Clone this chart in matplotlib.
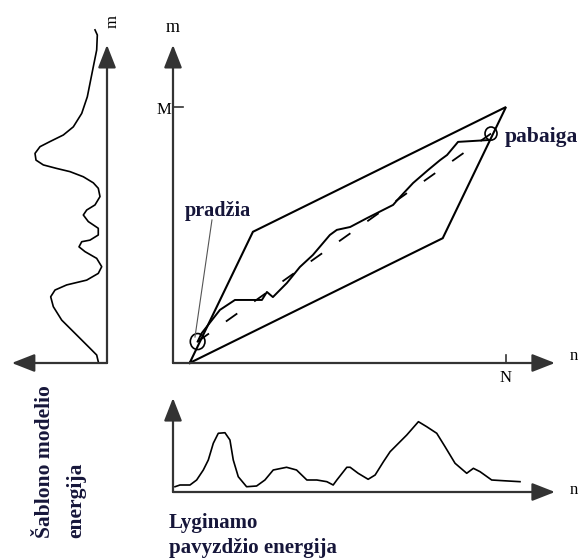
import numpy as np
import matplotlib.pyplot as plt
from matplotlib.patches import Ellipse

# frames of the test (n) and template (m) utterances
N = 100
M = 80

# allowed warping region (parallelogram)
region_n = [5, 24, 100, 81, 5]
region_m = [0, 41, 80, 39, 0]

# optimal warping path
path_n = [7.4, 8.6, 14.1, 18.6, 26.7, 28.2, 30.0, 34.2, 38.1, 42.0, 47.1, 49.2, 53.2,
          58.3, 66.1, 68.2, 72.1, 76.6, 80.2, 82.3, 85.6, 95.2]
path_m = [6.7, 9.3, 16.6, 19.7, 19.7, 22.2, 20.6, 25.0, 30.0, 33.75, 40.0, 41.6, 42.5,
          45.3, 49.4, 51.9, 56.25, 60.3, 63.4, 65.0, 69.1, 69.7]

start_pt = (7.4, 6.7)
end_pt = (95.5, 71.7)

# template energy (left panel), energy vs m
tmpl_e = [0.15, 0.121, 0.129, 0.171, 0.2125, 0.246, 0.316, 0.421, 0.546, 0.7125, 0.8375,
          0.9, 0.8875, 0.796, 0.629, 0.4625, 0.296, 0.171, 0.109, 0.0875, 0.15, 0.254,
          0.296, 0.234, 0.109, 0.109, 0.2125, 0.316, 0.35, 0.275, 0.129, 0.066, 0.109,
          0.254, 0.504, 0.65, 0.704, 0.671, 0.566, 0.379, 0.2125, 0.129, 0.109]
tmpl_m = [104.1, 102.5, 97.8, 92.6, 87.4, 83.2, 78.0, 73.8, 71.25, 69.2, 67.6,
          65.5, 63.4, 61.9, 60.8, 59.8, 58.2, 56.3, 54.6, 52.0, 49.4, 47.8,
          46.25, 44.2, 42.1, 40.0, 38.4, 37.9, 36.3, 34.8, 32.7, 30.1, 28.0,
          25.9, 24.4, 22.8, 20.7, 17.6, 13.4, 8.75, 4.6, 2.5, 0.4]

# test utterance energy (bottom panel), energy vs n
test_n = [0.6, 2.1, 5.1, 7.1, 9.1, 10.6, 12.1, 13.6, 15.6, 17.1, 18.1, 19.6, 22.1, 25.1,
          27.6, 30.1, 34.1, 37.1, 40.2, 43.2, 46.2, 48.1, 49.2, 52.2, 53.2, 55.6, 58.6,
          60.7, 63.2, 65.2, 67.2, 70.2, 73.7, 76.2, 79.2, 81.7, 84.7, 88.2, 90.2, 92.2,
          95.7, 99.2, 104.2]
test_e = [0.066, 0.0875, 0.0875, 0.15, 0.275, 0.4, 0.609, 0.734, 0.741, 0.65, 0.4, 0.191,
          0.066, 0.075, 0.15, 0.275, 0.309, 0.275, 0.15, 0.15, 0.129, 0.0875, 0.15, 0.309,
          0.309, 0.234, 0.159, 0.2125, 0.379, 0.504, 0.5875, 0.7125, 0.879, 0.816, 0.734,
          0.566, 0.359, 0.234, 0.296, 0.254, 0.15, 0.141, 0.129]

W, H = 582, 558
axis_col = '#333333'
txt_col = '#16163a'
plt.rcParams['font.family'] = ['Liberation Serif', 'DejaVu Serif']

fig = plt.figure(figsize=(W / 100, H / 100), dpi=100)


def overlay(x0, kx, y0, ky):
    # full-figure axes: data x = (px - x0) / kx, data y = (y0 - py) / ky
    ax = fig.add_axes([0, 0, 1, 1])
    ax.set_axis_off()
    ax.set_xlim((0 - x0) / kx, (W - x0) / kx)
    ax.set_ylim((y0 - H) / ky, y0 / ky)
    return ax


def arrow(ax, start, end):
    ax.annotate('', xy=end, xytext=start, annotation_clip=False,
                arrowprops=dict(arrowstyle='-|>,head_length=1.4,head_width=0.55',
                                color=axis_col, lw=1.6, shrinkA=0, shrinkB=0,
                                mutation_scale=10))


def ftext(x, y, s, **kw):
    fig.text(x / W, 1 - y / H, s, **kw)


# main DTW plane
ax = overlay(173, 3.33, 363, 3.2)
arrow(ax, (0, 0), (0, 99.4))
arrow(ax, (0, 0), (114.7, 0))
ax.plot([0, 3], [M, M], color=axis_col, lw=1.2)
ax.plot([N, N], [0, 2.5], color=axis_col, lw=1.2)
ax.plot(region_n, region_m, color='black', lw=1.5, solid_joinstyle='miter')
ax.plot([start_pt[0], end_pt[0]], [start_pt[1], end_pt[1]], color='black', lw=1.3,
        linestyle=(0, (7.7, 11.5)))
ax.plot(path_n, path_m, color='black', lw=1.4)
ax.add_patch(Ellipse(start_pt, 4.4, 5.0, fill=False, ec='black', lw=1.2))
ax.add_patch(Ellipse(end_pt, 3.6, 4.1, fill=False, ec='black', lw=1.2))
ax.plot([11.7, 6.6], [44.7, 8.1], color='#555555', lw=0.8)
ax.text(3.6, 47.5, 'pradžia', fontsize=14.5, fontweight='bold', color=txt_col,
        ha='left', va='center')
ax.text(99.7, 70.6, 'pabaiga', fontsize=15.5, fontweight='bold', color=txt_col,
        ha='left', va='center')

# template energy (left)
axl = overlay(107, -80, 363, 3.2)
arrow(axl, (0, 0), (0, 99.4))
arrow(axl, (0, 0), (1.19, 0))
axl.plot(tmpl_e, tmpl_m, color='black', lw=1.2)

# test energy (bottom)
axb = overlay(173, 3.33, 492, 80)
arrow(axb, (0, 0), (0, 1.175))
arrow(axb, (0, 0), (114.7, 0))
axb.plot(test_n, test_e, color='black', lw=1.2)

# axis letters
ftext(173, 28, 'm', fontsize=13, ha='center', va='center')
ftext(574, 356, 'n', fontsize=12, ha='center', va='center')
ftext(171, 110, 'M', fontsize=12, ha='right', va='center')
ftext(506, 378, 'N', fontsize=12, ha='center', va='center')
ftext(113, 22, 'm', fontsize=12, ha='center', va='center', rotation=90)
ftext(574, 490, 'n', fontsize=12, ha='center', va='center')

# panel titles
ftext(169, 513, 'Lyginamo\npavyzdžio energija', fontsize=15, fontweight='bold',
      color=txt_col, ha='left', va='top', linespacing=1.3)
ftext(35, 538, 'Šablono modelio\nenergija', fontsize=15.5, fontweight='bold',
      color=txt_col, ha='left', va='bottom', rotation=90, linespacing=1.75)

fig.savefig('out.png', dpi=100)
